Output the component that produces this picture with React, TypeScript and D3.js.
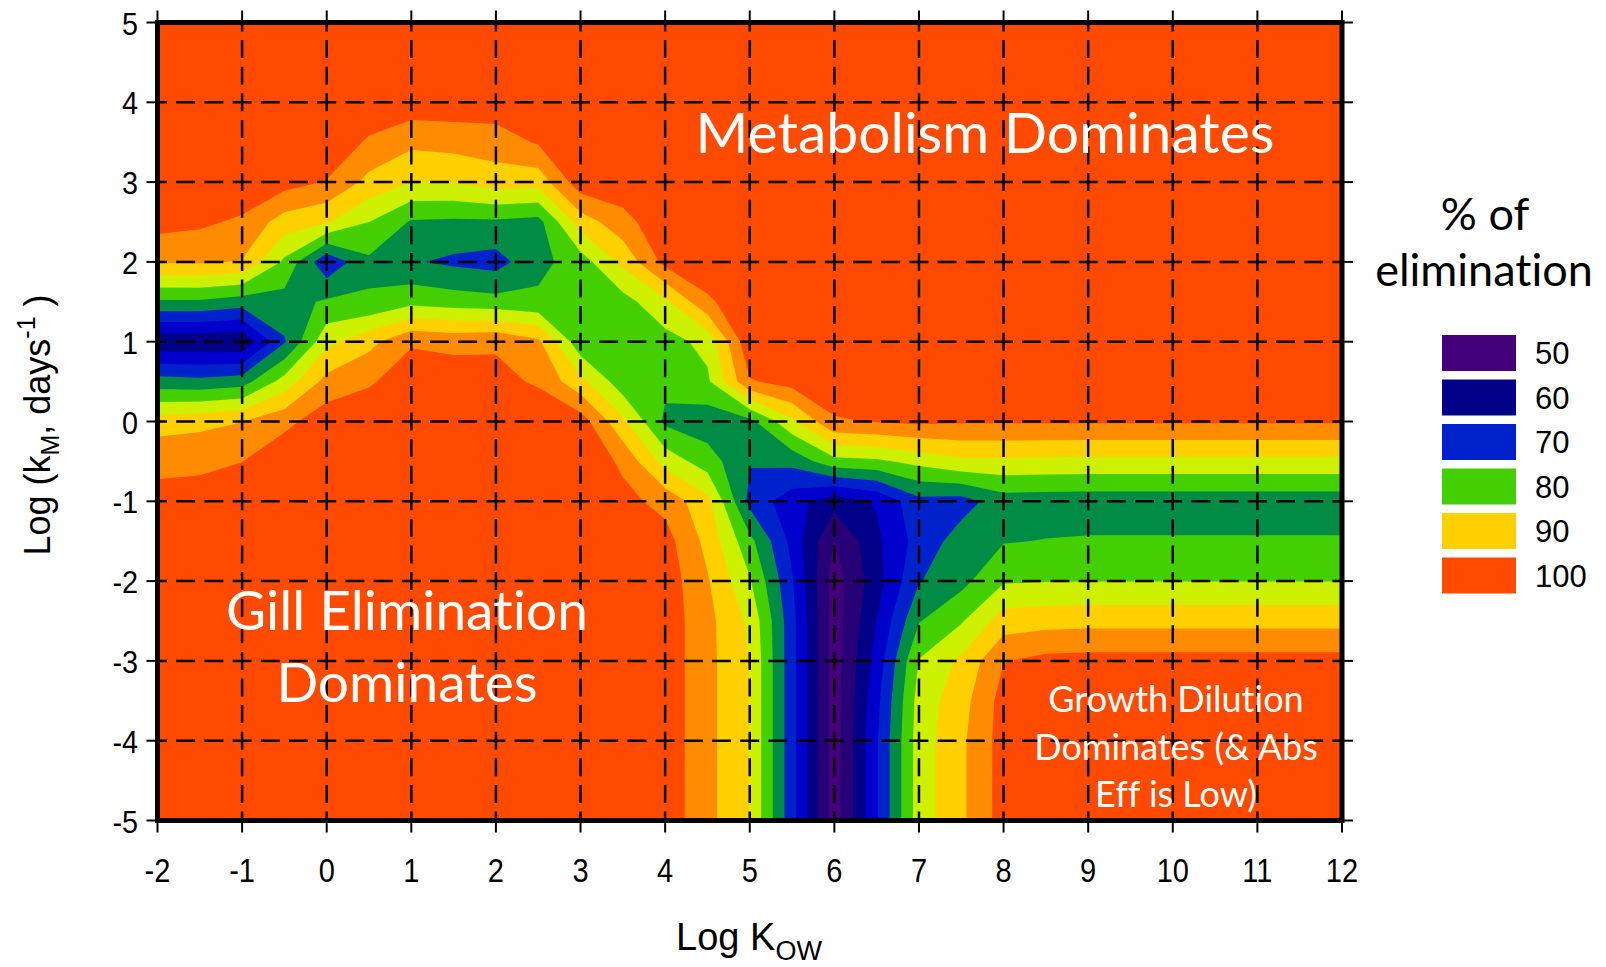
import React, { useEffect, useRef } from "react";
import * as d3 from "d3";

// grid positions of the model runs
const logKow = [-2, -1.5, -1, -0.5, 0, 0.5, 1, 1.5, 2, 2.5, 3, 3.5, 4, 4.5, 5, 5.5, 6, 6.5, 7, 7.5, 8, 8.5, 9, 9.5, 10, 10.5, 11, 11.5, 12];
const logKm = [5, 4.5, 4, 3.5, 3, 2.5, 2, 1.5, 1, 0.5, 0, -0.5, -1, -1.5, -2, -2.5, -3, -3.5, -4, -4.5, -5];

// % of elimination, one row per logKm (top to bottom), one column per logKow
const elimination = [
  [99, 99, 99, 99, 99, 99, 99, 99, 99, 99, 99, 99, 99, 99, 99, 99, 99, 99, 99, 99, 99, 99, 99, 99, 99, 99, 99, 99, 99],
  [99, 99, 99, 99, 99, 99, 99, 99, 99, 99, 99, 99, 99, 99, 99, 99, 99, 99, 99, 99, 99, 99, 99, 99, 99, 99, 99, 99, 99],
  [99, 99, 99, 99, 99, 99, 98, 98, 98, 99, 99, 99, 99, 99, 99, 99, 99, 99, 99, 99, 99, 99, 99, 99, 99, 99, 99, 99, 99],
  [99, 99, 99, 99, 99, 94.2, 91.2, 91.9, 92.5, 95.5, 99, 99, 99, 99, 99, 99, 99, 99, 99, 99, 99, 99, 99, 99, 99, 99, 99, 99, 99],
  [99, 99, 99, 97, 94.7, 88.5, 85, 85.2, 87.5, 87, 98, 98.5, 99, 99, 99, 99, 99, 99, 99, 99, 99, 99, 99, 99, 99, 99, 99, 99, 99],
  [97, 96, 94.1, 87.7, 85.5, 80, 74.5, 74.1, 74.2, 73.3, 87.5, 93, 99, 99, 99, 99, 99, 99, 99, 99, 99, 99, 99, 99, 99, 99, 99, 99, 99],
  [90.3, 90.5, 89.7, 79, 66, 74, 70.5, 69, 68, 73.5, 77.5, 86.4, 96.5, 99, 99, 99, 99, 99, 99, 99, 99, 99, 99, 99, 99, 99, 99, 99, 99],
  [74.3, 74.3, 72.5, 73, 75.7, 75.5, 78.5, 77.5, 76.8, 76, 76, 78, 84, 94, 99, 99, 99, 99, 99, 99, 99, 99, 99, 99, 99, 99, 99, 99, 99],
  [56, 56, 55.5, 69.5, 83.6, 88.5, 94.4, 93.5, 94.3, 91, 76.5, 77.5, 78, 81.5, 99, 99, 99, 99, 99, 99, 99, 99, 99, 99, 99, 99, 99, 99, 99],
  [72.2, 71.5, 72.8, 82, 91.7, 94.3, 98, 98, 96.5, 94.3, 86.5, 77, 76.2, 79.1, 94.5, 97, 98, 99, 99, 99, 99, 99, 99, 99, 99, 99, 99, 99, 99],
  [87.4, 88.5, 89.9, 93.5, 98, 99, 99, 99, 99, 99, 97.5, 86, 74, 72, 73.5, 84, 94.5, 95.3, 96, 95.5, 95.5, 95.5, 95.5, 95.5, 95.5, 95.5, 95.5, 95.5, 95.5],
  [94.2, 94.2, 94.9, 99, 99, 99, 99, 99, 99, 99, 99, 94, 83, 77.5, 70.3, 71.5, 78.3, 79, 81.5, 84, 84, 83.8, 83.6, 83.6, 83.6, 83.6, 83.6, 83.6, 83.6],
  [96, 96.5, 99, 99, 99, 99, 99, 99, 99, 99, 99, 96.5, 93.4, 86.5, 68.5, 62, 57, 60.5, 68.5, 68, 72.5, 72.3, 72.2, 72.2, 72.2, 72.2, 72.2, 72.2, 72.2],
  [99, 99, 99, 99, 99, 99, 99, 99, 99, 99, 99, 99, 97, 88.5, 76.5, 63.5, 49.7, 59, 67, 72.2, 74.7, 75.2, 75.5, 75.5, 75.5, 75.5, 75.5, 75.5, 75.5],
  [99, 99, 99, 99, 99, 99, 99, 99, 99, 99, 99, 99, 98, 90.5, 80.5, 65.5, 47.5, 58, 69.7, 73.5, 79.5, 79.8, 79.9, 79.9, 79.9, 79.9, 79.9, 79.9, 79.9],
  [99, 99, 99, 99, 99, 99, 99, 99, 99, 99, 99, 99, 98, 91.5, 84, 66.7, 47.5, 60, 74.7, 79.5, 87.4, 88.2, 88.4, 88.4, 88.4, 88.4, 88.4, 88.4, 88.4],
  [99, 99, 99, 99, 99, 99, 99, 99, 99, 99, 99, 99, 98, 91.5, 84.9, 66.7, 47.5, 62, 80.3, 86, 94.8, 96.5, 96.8, 96.8, 96.8, 96.8, 96.8, 96.8, 96.8],
  [99, 99, 99, 99, 99, 99, 99, 99, 99, 99, 99, 99, 98, 91.5, 84.9, 66.7, 47.5, 63.5, 82, 88, 97, 99, 99, 99, 99, 99, 99, 99, 99],
  [99, 99, 99, 99, 99, 99, 99, 99, 99, 99, 99, 99, 98, 91.5, 84.9, 66.7, 47.5, 64.5, 82.5, 89, 97.2, 99, 99, 99, 99, 99, 99, 99, 99],
  [99, 99, 99, 99, 99, 99, 99, 99, 99, 99, 99, 99, 98, 91.5, 84.9, 66.7, 47.5, 64.5, 82.5, 89, 97.2, 99, 99, 99, 99, 99, 99, 99, 99],
  [99, 99, 99, 99, 99, 99, 99, 99, 99, 99, 99, 99, 98, 91.5, 84.9, 66.7, 47.5, 64.5, 82.5, 89, 97.2, 99, 99, 99, 99, 99, 99, 99, 99],
];

const levels = [50, 55, 60, 65, 70, 75, 80, 85, 90, 95];
const levelColors = ["#44007a", "#270077", "#000088", "#0000cc", "#0022cc", "#008c45", "#44d000", "#ccf000", "#ffd000", "#ff8c00", "#ff4a00"];

const xTicks = [-2, -1, 0, 1, 2, 3, 4, 5, 6, 7, 8, 9, 10, 11, 12];
const yTicks = [-5, -4, -3, -2, -1, 0, 1, 2, 3, 4, 5];

const legendLabels = ["50", "60", "70", "80", "90", "100"];
const legendColors = ["#44007a", "#000088", "#0022cc", "#44d000", "#ffd000", "#ff4a00"];

const W = 1606;
const H = 967;
const box = { left: 157.5, right: 1342, top: 22.5, bottom: 820.5 };
const arial = "'Liberation Sans', Arial, sans-serif";
const humanist = "Lato, 'Open Sans', sans-serif";

export default function App() {
  const ref = useRef(null);

  useEffect(() => {
    const svg = d3.select(ref.current);
    svg.selectAll("*").remove();

    const x = d3.scaleLinear().domain([-2, 12]).range([box.left, box.right]);
    const y = d3.scaleLinear().domain([-5, 5]).range([box.bottom, box.top]);

    const nx = logKow.length;
    const ny = logKm.length;
    // d3.contours puts sample i at i + 0.5 in grid space
    const gx = d3.scaleLinear().domain([0.5, nx - 0.5]).range([logKow[0], logKow[nx - 1]]);
    const gy = d3.scaleLinear().domain([0.5, ny - 0.5]).range([logKm[0], logKm[ny - 1]]);

    const bands = d3.contours().size([nx, ny]).thresholds(levels)(elimination.flat());
    const path = d3.geoPath(d3.geoTransform({
      point(px, py) { this.stream.point(x(gx(px)), y(gy(py))); }
    }));

    svg.append("defs").append("clipPath").attr("id", "plotClip")
      .append("rect").attr("x", box.left).attr("y", box.top)
      .attr("width", box.right - box.left).attr("height", box.bottom - box.top);

    const chart = svg.append("g").attr("clip-path", "url(#plotClip)");
    chart.append("rect").attr("x", box.left).attr("y", box.top)
      .attr("width", box.right - box.left).attr("height", box.bottom - box.top)
      .attr("fill", levelColors[0]);
    chart.selectAll(".band").data(bands).join("path").attr("class", "band")
      .attr("d", path).attr("fill", (d, i) => levelColors[i + 1]);

    // dashed grid, a dash centred on every tick
    chart.selectAll(".vgrid").data(xTicks.slice(1, -1)).join("line").attr("class", "vgrid")
      .attr("x1", d => x(d)).attr("x2", d => x(d)).attr("y1", box.top).attr("y2", box.bottom)
      .attr("stroke", "#000").attr("stroke-width", 2.5)
      .attr("stroke-dasharray", "18 8.6").attr("stroke-dashoffset", 9);
    chart.selectAll(".hgrid").data(yTicks.slice(1, -1)).join("line").attr("class", "hgrid")
      .attr("y1", d => y(d)).attr("y2", d => y(d)).attr("x1", box.left).attr("x2", box.right)
      .attr("stroke", "#000").attr("stroke-width", 2.5)
      .attr("stroke-dasharray", "19 9.2").attr("stroke-dashoffset", 9.5);

    // annotations
    const note = (lines, cx, y0, lh, size) => {
      lines.forEach((t, i) => {
        svg.append("text").attr("x", cx).attr("y", y0 + i * lh).attr("text-anchor", "middle")
          .attr("font-family", humanist).attr("font-size", size).attr("fill", "#fff")
          .style("font-variant-ligatures", "none").text(t);
      });
    };
    note(["Metabolism Dominates"], 985, 153, 0, 57);
    note(["Gill Elimination", "Dominates"], 407, 630, 72, 55);
    note(["Growth Dilution", "Dominates (& Abs", "Eff is Low)"], 1176, 712, 47.5, 36);

    // ticks on all four sides
    const ticks = svg.append("g").attr("stroke", "#000").attr("stroke-width", 2);
    xTicks.forEach(t => {
      ticks.append("line").attr("x1", x(t)).attr("x2", x(t)).attr("y1", box.bottom).attr("y2", box.bottom + 12);
      ticks.append("line").attr("x1", x(t)).attr("x2", x(t)).attr("y1", box.top - 12).attr("y2", box.top);
    });
    yTicks.forEach(t => {
      ticks.append("line").attr("y1", y(t)).attr("y2", y(t)).attr("x1", box.left - 11).attr("x2", box.left);
      ticks.append("line").attr("y1", y(t)).attr("y2", y(t)).attr("x1", box.right).attr("x2", box.right + 11);
    });

    svg.append("rect").attr("x", box.left).attr("y", box.top)
      .attr("width", box.right - box.left).attr("height", box.bottom - box.top)
      .attr("fill", "none").attr("stroke", "#000").attr("stroke-width", 5);

    // tick labels are a little condensed in the original
    svg.selectAll(".xlab").data(xTicks).join("text").attr("class", "xlab")
      .attr("transform", d => `translate(${x(d)},882) scale(0.88,1)`).attr("text-anchor", "middle")
      .attr("font-family", arial).attr("font-size", 33).text(d => d);
    svg.selectAll(".ylab").data(yTicks).join("text").attr("class", "ylab")
      .attr("transform", d => `translate(138,${y(d) + 12}) scale(0.9,1)`).attr("text-anchor", "end")
      .attr("font-family", arial).attr("font-size", 32).text(d => d);

    const xTitle = svg.append("text").attr("x", 749).attr("y", 950).attr("text-anchor", "middle")
      .attr("font-family", arial).attr("font-size", 38);
    xTitle.append("tspan").text("Log K");
    xTitle.append("tspan").attr("font-size", 27).attr("dy", 10).text("OW");

    const yTitle = svg.append("text").attr("transform", "translate(50,425) rotate(-90)")
      .attr("text-anchor", "middle").attr("font-family", arial).attr("font-size", 36);
    yTitle.append("tspan").text("Log (k");
    yTitle.append("tspan").attr("font-size", 25).attr("dy", 9).text("M");
    yTitle.append("tspan").attr("dy", -9).text(", days");
    yTitle.append("tspan").attr("font-size", 25).attr("dy", -15).text("-1");
    yTitle.append("tspan").attr("dy", 15).text(" )");

    // legend
    svg.append("text").attr("x", 1485).attr("y", 230).attr("text-anchor", "middle")
      .attr("font-family", humanist).attr("font-size", 45).text("% of");
    svg.append("text").attr("x", 1484).attr("y", 286).attr("text-anchor", "middle")
      .attr("font-family", humanist).attr("font-size", 45)
      .style("font-variant-ligatures", "none").text("elimination");
    const legend = svg.append("g");
    legend.selectAll("rect").data(legendColors).join("rect")
      .attr("x", 1442).attr("y", (d, i) => 335 + i * 44.5).attr("width", 74).attr("height", 36)
      .attr("fill", d => d);
    legend.selectAll("text").data(legendLabels).join("text")
      .attr("x", 1535).attr("y", (d, i) => 335 + i * 44.5 + 18 + 11)
      .attr("font-family", arial).attr("font-size", 31).text(d => d);
  }, []);

  return (
    <svg ref={ref} width={W} height={H}
      style={{ position: "absolute", left: 0, top: 0, background: "#fff" }} />
  );
}
